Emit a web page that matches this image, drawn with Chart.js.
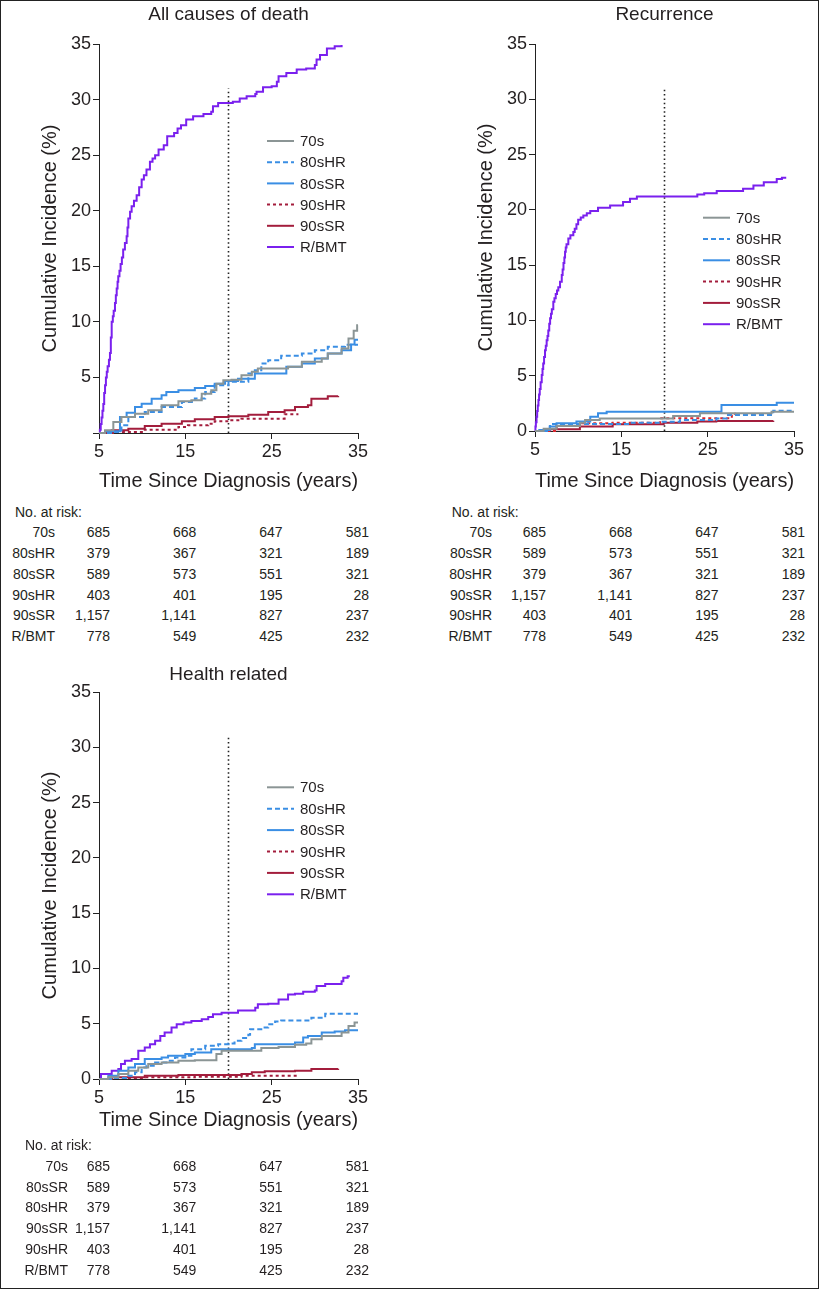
<!DOCTYPE html>
<html>
<head>
<meta charset="utf-8">
<script src="https://cdn.jsdelivr.net/npm/chart.js@4.4.1/dist/chart.umd.min.js"></script>
<style>
    body { margin: 0; background: #fff; font-family: "Liberation Sans", Arial, sans-serif; color: #231f20; }
    #page { position: relative; width: 819px; height: 1290px; overflow: hidden; }
    #frame { position: absolute; left: 0; top: 0; width: 817px; height: 1287px; border: 1px solid #222; }
    canvas { position: absolute; }
    .risk { position: absolute; font-size: 14px; line-height: 16px; white-space: nowrap; }
</style>
</head>
<body>
<div id="page">
    <div id="frame"></div>
    <canvas id="c1" width="410" height="503" style="left:0;top:0"></canvas>
    <canvas id="c2" width="383" height="501" style="left:436px;top:0"></canvas>
    <canvas id="c3" width="410" height="489" style="left:0;top:650px"></canvas>
</div>
<script>
// x ticks / at-risk times
const riskTimes = [5, 15, 25, 35];

// All causes of death  [years, %]
const allCauses70s = [[5,0],[5.7,0.24],[6.66,1.0],[7.6,1.44],[9.17,1.74],[10.7,2.04],[12.25,2.49],[14.2,2.85],[15.7,2.94],[16.9,3.54],[18.0,3.84],[18.6,4.44],[19.4,4.74],[20.35,4.8],[21.5,5.2],[22.7,5.5],[23.4,5.8],[26.9,5.95],[28.5,6.4],[30.8,6.7],[31.5,7.15],[33.1,7.6],[33.9,8.5],[34.5,9.2],[34.9,9.7],[35,9.7]];
const allCauses80sHR = [[5,0],[6.85,0.1],[7.6,0.7],[8.4,1.44],[10.3,1.9],[12.25,2.34],[14.6,2.8],[16.1,3.1],[17.3,3.7],[18.4,4.3],[20.0,4.6],[22.3,5.35],[23.05,5.65],[23.8,6.25],[24.6,6.55],[26.1,6.95],[28.5,7.15],[30.0,7.45],[31.5,7.75],[33.5,7.95],[35,7.95]];
const allCauses80sSR = [[5,0],[5.7,0.15],[7.43,1.44],[8.2,1.83],[9.17,2.34],[9.94,2.64],[11.1,3.09],[12.25,3.39],[12.8,3.69],[14.2,3.84],[16.1,4.05],[17.3,4.23],[18.4,4.44],[19.6,4.68],[21.1,4.89],[23.05,5.35],[26.7,5.95],[28.5,6.25],[30.0,6.7],[31.5,7.15],[33.1,7.45],[34.2,7.96],[34.6,8.4],[35,8.4]];
const allCauses90sHR = [[5,0],[6.85,0.1],[10.3,0.3],[14.2,0.54],[15.3,0.69],[17.65,0.84],[18.4,1.05],[20.0,1.14],[21.5,1.29],[26.5,1.68],[28.1,1.68]];
const allCauses90sSR = [[5,0],[6.47,0.24],[8.4,0.39],[10.3,0.63],[12.25,0.84],[14.6,1.05],[16.1,1.23],[18.4,1.44],[20.0,1.5],[22.3,1.65],[24.6,1.89],[26.5,2.04],[27.7,2.34],[29.2,2.49],[29.6,3.09],[31.5,3.3],[32.7,3.33]];
const allCausesRBMT = [[5,0],[5.1,0.3],[5.2,0.8],[5.3,1.4],[5.4,2.0],[5.5,2.6],[5.6,3.6],[5.7,4.3],[5.8,5.0],[5.9,5.5],[6.0,6.0],[6.15,6.6],[6.27,7.2],[6.37,8.6],[6.47,10.0],[6.6,10.5],[6.7,11.0],[6.85,11.7],[6.95,12.4],[7.05,13.0],[7.15,13.6],[7.23,14.1],[7.37,14.6],[7.5,15.2],[7.65,15.8],[7.8,16.5],[8.0,17.1],[8.2,17.7],[8.3,18.5],[8.4,19.3],[8.6,19.9],[8.78,20.4],[9.05,20.9],[9.36,21.4],[9.65,22.1],[9.94,22.8],[10.2,23.2],[10.5,23.7],[10.9,24.4],[11.2,24.7],[11.5,25.0],[11.9,25.5],[12.5,25.9],[12.9,26.7],[13.7,27.0],[14.1,27.4],[14.5,27.7],[15.1,28.2],[15.9,28.5],[17.1,28.7],[18.0,28.9],[18.2,29.4],[18.8,29.7],[20.5,29.8],[21.3,30.1],[22.1,30.3],[23.1,30.5],[23.25,30.7],[24.0,31.1],[25.0,31.2],[25.6,31.6],[25.8,32.1],[26.7,32.4],[27.9,32.7],[29.0,32.8],[30.0,33.1],[30.2,33.6],[30.6,34.0],[31.4,34.6],[32.3,34.8],[33.1,34.9]];

// Recurrence
const recur70s = [[5,0],[6.0,0.2],[7.5,0.45],[10.2,0.75],[10.8,1.0],[12.5,1.14],[21.0,1.36],[24.1,1.6],[32.4,1.75],[35,1.75]];
const recur80sHR = [[5,0],[6.74,0.63],[16.0,0.75],[19.6,0.84],[21.8,1.0],[26.0,1.14],[27.2,1.45],[32.6,1.84],[35,1.84]];
const recur80sSR = [[5,0],[5.5,0.1],[6.7,0.4],[7.5,0.7],[9.8,0.85],[11.4,1.3],[12.3,1.6],[13.3,1.75],[26.6,2.35],[33.0,2.56],[35,2.56]];
const recur90sHR = [[5,0],[7.5,0.45],[10.2,0.7],[14.0,0.75],[19.5,1.15],[27.8,1.55],[28.3,1.55]];
const recur90sSR = [[5,0],[6.7,0.15],[10.2,0.4],[14.0,0.6],[19.9,0.75],[23.8,0.85],[26.0,0.9],[32.6,0.93]];
const recurRBMT = [[5,0],[5.05,0.4],[5.1,0.8],[5.18,1.3],[5.25,1.8],[5.32,2.3],[5.4,2.8],[5.47,3.3],[5.55,3.8],[5.65,4.4],[5.78,5.06],[5.87,5.6],[5.95,6.1],[6.05,6.7],[6.16,7.3],[6.25,7.7],[6.35,8.2],[6.45,8.6],[6.54,9.1],[6.65,9.7],[6.75,10.2],[6.85,10.6],[6.95,11.0],[7.12,11.7],[7.25,12.0],[7.4,12.4],[7.55,12.7],[7.7,13.0],[7.9,13.5],[8.1,14.1],[8.2,14.6],[8.3,15.2],[8.4,15.7],[8.48,16.2],[8.56,16.6],[8.65,16.9],[8.86,17.4],[9.1,17.7],[9.44,18.0],[9.6,18.3],[9.8,18.7],[10.0,19.1],[10.3,19.3],[10.6,19.5],[11.0,19.7],[11.4,19.9],[12.3,20.2],[13.7,20.4],[15.2,20.7],[16.0,21.0],[16.8,21.2],[23.8,21.4],[24.6,21.5],[26.05,21.7],[29.1,21.9],[30.3,22.2],[31.5,22.5],[33.0,22.8],[33.6,22.9],[34.1,22.9]];

// Health related
const health70s = [[5,0],[6.08,0.15],[7.24,0.45],[8.4,0.75],[9.55,1.05],[10.7,1.35],[12.25,1.5],[14.2,1.65],[16.1,1.7],[18.6,2.25],[19.2,2.55],[23.8,2.8],[25.8,2.9],[27.7,3.1],[29.0,3.2],[29.6,3.6],[30.8,3.9],[33.1,4.2],[33.9,4.8],[34.6,5.1],[35,5.1]];
const health80sHR = [[5,0],[6.85,0.1],[8.4,0.3],[9.17,0.6],[9.94,1.05],[10.5,1.2],[11.5,1.5],[13.0,1.65],[13.8,1.95],[15.0,2.1],[15.7,2.7],[17.3,3.0],[18.8,3.15],[20.0,3.2],[20.7,3.45],[21.5,3.7],[22.3,4.0],[22.5,4.5],[23.8,4.65],[24.6,4.95],[25.4,5.2],[26.1,5.3],[29.6,5.55],[31.2,5.9],[35,5.9]];
const health80sSR = [[5,0],[6.08,0.3],[7.24,0.75],[8.4,1.05],[9.17,1.35],[10.3,1.8],[12.25,1.95],[13.0,2.1],[15.0,2.25],[16.1,2.4],[18.0,2.7],[22.7,2.8],[23.05,3.15],[27.7,3.3],[28.65,3.75],[29.2,3.9],[30.8,4.2],[32.3,4.3],[33.5,4.4],[35,4.4]];
const health90sHR = [[5,0],[6.47,0.1],[10.3,0.15],[16.1,0.2],[21.5,0.3],[28.1,0.3]];
const health90sSR = [[5,0],[6.47,0.15],[10.3,0.3],[14.2,0.36],[21.5,0.45],[22.7,0.6],[24.2,0.7],[27.7,0.75],[29.6,0.9],[32.7,0.93]];
const healthRBMT = [[5,0],[5.23,0.45],[6.47,0.75],[7.24,0.9],[7.55,1.35],[8.0,1.65],[8.78,1.8],[9.55,2.55],[10.3,2.85],[10.9,3.15],[11.5,3.45],[12.1,3.9],[12.6,4.2],[13.4,4.65],[14.0,4.95],[14.8,5.1],[15.7,5.25],[16.9,5.4],[17.65,5.6],[18.2,5.85],[19.2,6.0],[21.1,6.2],[23.1,6.45],[23.4,6.75],[24.6,6.8],[25.8,7.2],[26.9,7.65],[27.7,7.7],[28.65,7.9],[30.0,8.0],[30.2,8.4],[31.2,8.6],[33.1,8.85],[33.3,9.15],[33.8,9.3],[34.05,9.3]];

// No. at risk
const risk70s = [685, 668, 647, 581];
const risk80sHR = [379, 367, 321, 189];
const risk80sSR = [589, 573, 551, 321];
const risk90sHR = [403, 401, 195, 28];
const risk90sSR = [1157, 1141, 827, 237];
const riskRBMT = [778, 549, 425, 232];

const riskRowsTop = [['70s', risk70s], ['80sHR', risk80sHR], ['80sSR', risk80sSR], ['90sHR', risk90sHR], ['90sSR', risk90sSR], ['R/BMT', riskRBMT]];
const riskRowsOther = [['70s', risk70s], ['80sSR', risk80sSR], ['80sHR', risk80sHR], ['90sSR', risk90sSR], ['90sHR', risk90sHR], ['R/BMT', riskRBMT]];

const FONT = '"Liberation Sans", Arial, Helvetica, sans-serif';
const INK = '#231f20';

const styles = {
    '70s':   { color: '#8b9595', dash: [] },
    '80sHR': { color: '#3a8ee4', dash: [5, 3] },
    '80sSR': { color: '#3a8ee4', dash: [] },
    '90sHR': { color: '#a31d3c', dash: [3, 3] },
    '90sSR': { color: '#a31d3c', dash: [] },
    'R/BMT': { color: '#7a20ee', dash: [] }
};

// Legend next to the curves
const sideLegend = {
    id: 'sideLegend',
    afterDraw(chart, args, opts) {
        const ctx = chart.ctx;
        ctx.save();
        let i = 0;
        chart.data.datasets.forEach(ds => {
            if (!ds.inLegend) return;
            const y = opts.y + i * opts.step;
            ctx.strokeStyle = ds.legendColor || ds.borderColor;
            ctx.lineWidth = 2;
            ctx.setLineDash(ds.borderDash || []);
            ctx.beginPath();
            ctx.moveTo(opts.x, y);
            ctx.lineTo(opts.x + 27, y);
            ctx.stroke();
            ctx.setLineDash([]);
            ctx.fillStyle = INK;
            ctx.font = '15px ' + FONT;
            ctx.textBaseline = 'middle';
            ctx.textAlign = 'left';
            ctx.fillText(ds.label, opts.x + 33, y + 1);
            i++;
        });
        ctx.restore();
    }
};

const panels = [
    {
        canvas: 'c1', left: 0, top: 0, title: 'All causes of death',
        titlePad: { top: 3.6, bottom: 17.6 }, padRight: 52, xHeight: 70, xTitlePad: 10, hideZero: true,
        legend: { x: 267, y: 141, step: 21.2 },
        series: [['70s', allCauses70s], ['80sHR', allCauses80sHR], ['80sSR', allCauses80sSR], ['90sHR', allCauses90sHR], ['90sSR', allCauses90sSR], ['R/BMT', allCausesRBMT]],
        rows: riskRowsTop, headLeft: 15, headY: 511.7, rowStep: 20.7, labelRight: 55
    },
    {
        canvas: 'c2', left: 436, top: 0, title: 'Recurrence',
        titlePad: { top: 3.6, bottom: 17.6 }, padRight: 25, xHeight: 70, xTitlePad: 8, hideZero: false,
        legend: { x: 267, y: 217.7, step: 21.3 },
        series: [['70s', recur70s], ['80sHR', recur80sHR], ['80sSR', recur80sSR], ['90sHR', recur90sHR], ['90sSR', recur90sSR], ['R/BMT', recurRBMT]],
        plotColors: { '90sHR': '#d8262e' },
        rows: riskRowsOther, headLeft: 451.7, headY: 511.7, rowStep: 20.7, labelRight: 492
    },
    {
        canvas: 'c3', left: 0, top: 650, title: 'Health related',
        titlePad: { top: 13.6, bottom: 5.6 }, padRight: 52, xHeight: 60, xTitlePad: 7, hideZero: false,
        legend: { x: 267, y: 137.3, step: 21.4 },
        series: [['70s', health70s], ['80sHR', health80sHR], ['80sSR', health80sSR], ['90sHR', health90sHR], ['90sSR', health90sSR], ['R/BMT', healthRBMT]],
        rows: riskRowsOther, headLeft: 25, headY: 1145, rowStep: 20.8, labelRight: 68
    }
];

function addText(text, x, y, alignRight) {
    const el = document.createElement('div');
    el.className = 'risk';
    el.textContent = text;
    el.style.left = x + 'px';
    el.style.top = (y - 8) + 'px';
    if (alignRight) el.style.transform = 'translateX(-100%)';
    document.getElementById('page').appendChild(el);
}

function createPanel(p) {
    const datasets = p.series.map(([label, pts]) => {
        const st = styles[label];
        const plotColor = (p.plotColors && p.plotColors[label]) || st.color;
        return {
            label: label,
            data: pts.map(([x, y]) => ({ x: x, y: y })),
            borderColor: plotColor,
            legendColor: st.color,
            borderDash: st.dash,
            borderWidth: 2,
            stepped: true,
            pointRadius: 0,
            fill: false,
            inLegend: true
        };
    });
    // 20-year reference line
    datasets.push({
        label: '',
        data: [{ x: 20, y: 0 }, { x: 20, y: 31 }],
        borderColor: '#222',
        borderWidth: 1.6,
        borderDash: [1.5, 2.8],
        pointRadius: 0,
        inLegend: false
    });

    const chart = new Chart(document.getElementById(p.canvas), {
        type: 'line',
        data: { datasets: datasets },
        plugins: [sideLegend],
        options: {
            responsive: false,
            animation: false,
            devicePixelRatio: 1,
            clip: false,
            layout: { padding: { left: 0, right: p.padRight, top: 0, bottom: 0 } },
            scales: {
                x: {
                    type: 'linear',
                    min: 5,
                    max: 35,
                    afterBuildTicks: s => { s.ticks = riskTimes.map(v => ({ value: v })); },
                    afterFit: s => { s.height = p.xHeight; },
                    grid: { drawOnChartArea: false, drawTicks: true, tickLength: 6, color: '#222' },
                    border: { display: true, color: '#222', width: 1 },
                    ticks: { color: INK, font: { family: FONT, size: 18 }, padding: 2, maxRotation: 0 },
                    title: {
                        display: true,
                        text: 'Time Since Diagnosis (years)',
                        color: INK,
                        font: { family: FONT, size: 20 },
                        padding: { top: 0, bottom: p.xTitlePad }
                    }
                },
                y: {
                    min: 0,
                    max: 35,
                    ticks: {
                        stepSize: 5,
                        color: INK,
                        font: { family: FONT, size: 18 },
                        padding: 2,
                        callback: v => (p.hideZero && v === 0) ? '' : v
                    },
                    afterFit: s => { s.width = 99; },
                    grid: { drawOnChartArea: false, drawTicks: true, tickLength: 6, color: '#222' },
                    border: { display: true, color: '#222', width: 1 },
                    title: {
                        display: true,
                        text: 'Cumulative Incidence (%)',
                        color: INK,
                        font: { family: FONT, size: 20 },
                        padding: { top: 38, bottom: 0 }
                    }
                }
            },
            plugins: {
                legend: { display: false },
                tooltip: { enabled: false },
                title: {
                    display: true,
                    text: p.title,
                    fullSize: false,
                    color: INK,
                    font: { family: FONT, size: 19, weight: 'normal' },
                    padding: p.titlePad
                },
                sideLegend: p.legend
            }
        }
    });

    // No. at risk table, columns under the x ticks
    const xs = chart.scales.x;
    addText('No. at risk:', p.headLeft, p.headY, false);
    p.rows.forEach(([name, counts], i) => {
        const y = p.headY + (i + 1) * p.rowStep;
        addText(name, p.labelRight, y, true);
        counts.forEach((n, j) => {
            const x = p.left + xs.getPixelForValue(riskTimes[j]) + 11;
            addText(n.toLocaleString('en-US'), x, y, true);
        });
    });
}

panels.forEach(createPanel);
</script>
</body>
</html>
